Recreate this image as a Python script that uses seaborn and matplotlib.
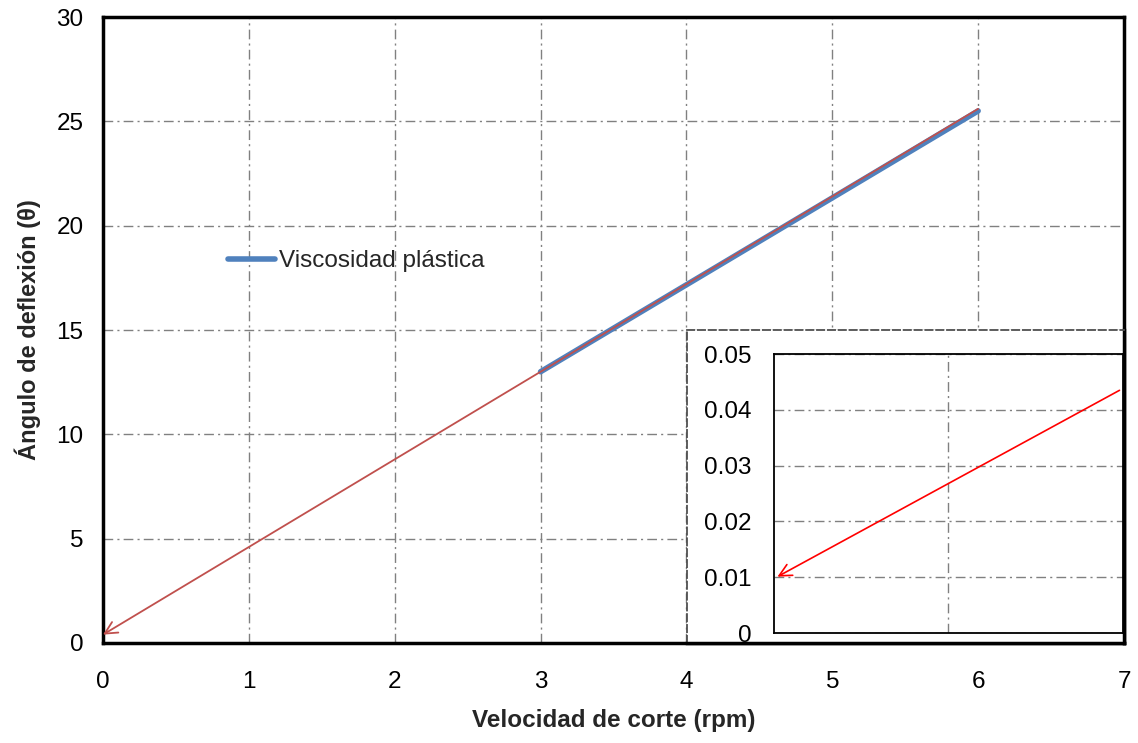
import matplotlib
matplotlib.use("Agg")
import matplotlib.pyplot as plt
import seaborn as sns
import pandas as pd

# ---- data ----
speed_rpm = [3, 6]
deflection = [13.0, 25.5]
trend_x = [6, 0]
trend_y = [25.6, 0.4]
inset_x = [1.98, 0.02]
inset_y = [0.0435, 0.0101]

x_ticks = [0, 1, 2, 3, 4, 5, 6, 7]
y_ticks = [0, 5, 10, 15, 20, 25, 30]
inset_y_ticks = [0, 0.01, 0.02, 0.03, 0.04, 0.05]
inset_y_labels = ["0", "0.01", "0.02", "0.03", "0.04", "0.05"]

sns.set_style("white")
plt.rcParams['font.family'] = ['Liberation Sans', 'DejaVu Sans']

GRID = dict(color='#808080', linestyle=(0, (7, 3, 1.5, 3)), linewidth=1)
FS = 17.5

fig = plt.figure(figsize=(11.38, 7.43), dpi=100)

# ---- main chart ----
ax = fig.add_axes([0.0905, 0.1346, 0.8972, 0.8425])
df = pd.DataFrame({'speed': speed_rpm, 'deflection': deflection})
sns.lineplot(data=df, x='speed', y='deflection', ax=ax, color='#4F81BD',
             linewidth=4, label='Viscosidad plástica', solid_capstyle='round', zorder=2)
ax.annotate('', xy=(trend_x[1], trend_y[1]), xytext=(trend_x[0], trend_y[0]),
            arrowprops=dict(arrowstyle='->', color='#C0504D', lw=1.3,
                            shrinkA=0, shrinkB=0, mutation_scale=22), zorder=3)

ax.set_xlim(0, 7)
ax.set_ylim(0, 30)
ax.set_xticks(x_ticks)
ax.set_yticks(y_ticks)
ax.grid(True, **GRID)
for s in ax.spines.values():
    s.set_visible(True)
    s.set_color('black')
    s.set_linewidth(2.5)
ax.tick_params(axis='both', length=0, labelsize=FS, colors='black')
ax.tick_params(axis='x', pad=20)
ax.tick_params(axis='y', pad=14)
ax.set_xlabel('Velocidad de corte (rpm)', fontsize=17.5, fontweight='bold', labelpad=12)
ax.set_ylabel('Ángulo de deflexión (θ)', fontsize=17, fontweight='bold', labelpad=11)
ax.legend(loc='center left', bbox_to_anchor=(0.1224, 0.610), frameon=False,
          fontsize=FS, handlelength=1.95, handletextpad=0.15,
          borderpad=0, borderaxespad=0)

# ---- inset frame ----
fr = fig.add_axes([0.6037, 0.1346, 0.3840, 0.4213])
fr.set_xticks([])
fr.set_yticks([])
fr.set_facecolor('white')
for side in ['left', 'top']:
    fr.spines[side].set_color('#505050')
    fr.spines[side].set_linewidth(1.3)
    fr.spines[side].set_linestyle((0, (4, 2)))
for side in ['right', 'bottom']:
    fr.spines[side].set_color('black')
    fr.spines[side].set_linewidth(2.5)

# ---- inset axes ----
inn = fig.add_axes([0.6801, 0.1480, 0.3067, 0.3755])
inn.annotate('', xy=(inset_x[1], inset_y[1]), xytext=(inset_x[0], inset_y[0]),
             arrowprops=dict(arrowstyle='->', color='red', lw=1.2,
                             shrinkA=0, shrinkB=0, mutation_scale=22))
inn.set_xlim(0, 2)
inn.set_ylim(0, 0.05)
inn.set_xticks([1])
inn.set_xticklabels([])
inn.set_yticks(inset_y_ticks)
inn.set_yticklabels(inset_y_labels)
inn.grid(True, **GRID)
for s in inn.spines.values():
    s.set_visible(True)
    s.set_color('black')
    s.set_linewidth(1.3)
inn.tick_params(axis='both', length=0, labelsize=FS, pad=16, colors='black')

fig.savefig('out.png', dpi=100)
